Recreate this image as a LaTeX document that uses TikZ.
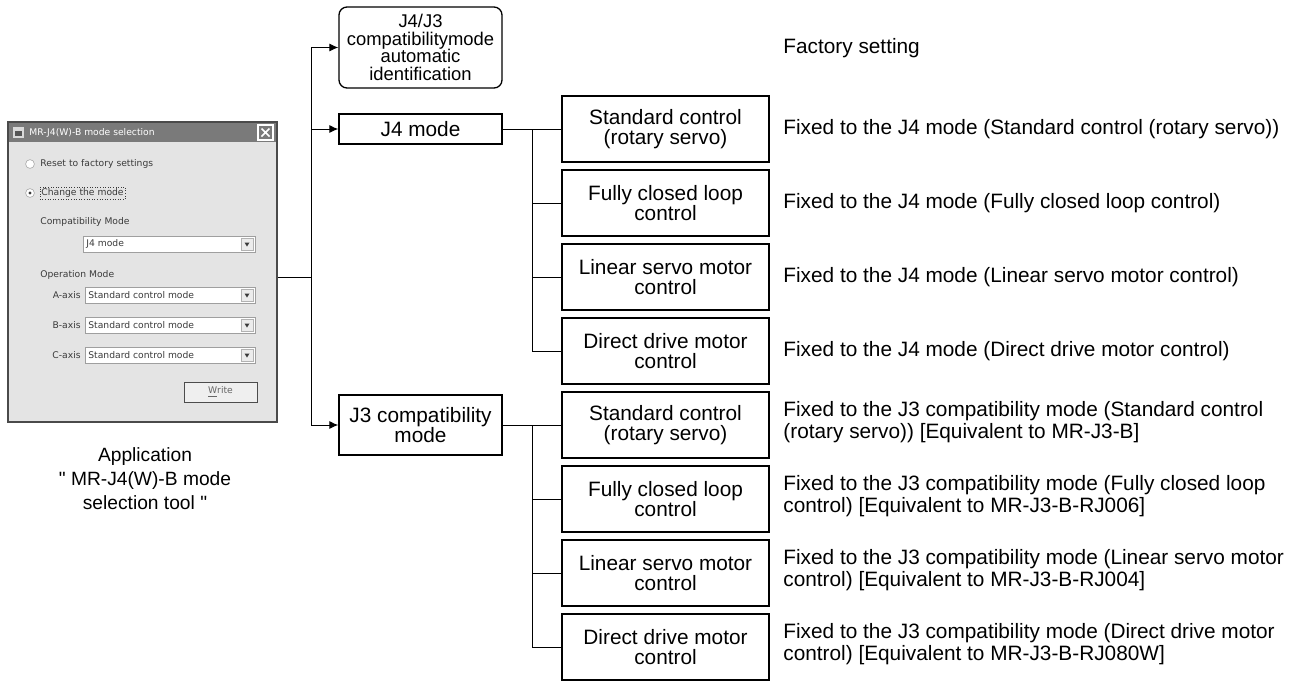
\documentclass[tikz,border=0pt]{standalone}
\usepackage{fontspec}
\setmainfont{Liberation Sans}[Ligatures=TeXOff]
\newfontfamily\dlgfamily{DejaVu Sans}
\usetikzlibrary{positioning,arrows.meta}
\definecolor{dlgbg}{HTML}{E4E4E4}
\definecolor{dlgtitle}{HTML}{7A7A7A}
\definecolor{dlgedge}{HTML}{4A4A4A}
\definecolor{dlgtext}{HTML}{3A3A3A}
\tikzset{
  modebox/.style={draw,line width=0.65pt,align=center,minimum width=81.5pt,minimum height=15pt,inner sep=1pt,font=\fontsize{10.4}{10}\selectfont},
  autobox/.style={modebox,rounded corners=4pt,minimum height=40.5pt,font=\fontsize{9.2}{8.8}\selectfont},
  ctrlbox/.style={modebox,minimum width=103.5pt,minimum height=33pt},
  note/.style={anchor=west,align=left,inner sep=0pt,font=\fontsize{10.4}{9.6}\selectfont},
  wire/.style={line width=0.5pt},
  dlgtxt/.style={anchor=west,inner sep=0pt,text=dlgtext,font=\dlgfamily\fontsize{4.6}{5}\selectfont},
  combo/.style={draw=gray!75,fill=white,line width=0.4pt},
  dropbtn/.style={draw=gray!60,fill=gray!15,line width=0.3pt},
}
\begin{document}
\begin{tikzpicture}[>={Latex[length=4.5pt,width=4pt]},x=0.5pt,y=-0.5pt]
  \useasboundingbox (0,0) rectangle (1306,682);
  % Dialog window
  \draw[line width=1pt,draw=dlgedge,fill=dlgbg] (8,122) rectangle (277,422);
  \fill[dlgtitle] (9,123) rectangle (276,142);
  \fill[white!85!black] (13,127) rectangle (24,138);
  \fill[dlgtitle!70!black] (15,131) rectangle (22,136);
  \node[dlgtxt,text=white] (ttl) at (29,132.5) {MR-J4(W)-B mode selection};
  \draw[white,line width=0.6pt] (258,125) rectangle (273,140);
  \draw[white,line width=0.8pt] (261.5,128.5) -- (269.5,136.5) (269.5,128.5) -- (261.5,136.5);
  % Radio buttons
  \draw[gray!70,fill=white,line width=0.3pt] (30,164) circle (2.2pt);
  \node[dlgtxt] (rst) at (40,164) {Reset to factory settings};
  \draw[gray!70,fill=white,line width=0.3pt] (30,193) circle (2.2pt);
  \fill[dlgtext] (30,193) circle (0.8pt);
  \node[dlgtxt,draw=dlgtext,densely dotted,line width=0.3pt,inner sep=0.8pt] (chg) at (39.5,193) {Change the mode};
  % Compatibility mode
  \node[dlgtxt] (cmp) at (40,222) {Compatibility Mode};
  \draw[combo] (83,236) rectangle (255,252);
  \draw[dropbtn] (241,238) rectangle (253,250);
  \fill[dlgtext] (244.5,242.5) -- (249.5,242.5) -- (247,246.5) -- cycle;
  \node[dlgtxt] (cmpsel) at (86,244) {J4 mode};
  % Operation mode
  \node[dlgtxt] (opm) at (40,275) {Operation Mode};
  \foreach \ax/\yy in {A/295,B/325,C/355}{
    \node[dlgtxt,anchor=east] at (81,\yy) {\ax-axis};
    \draw[combo] (85,\yy-8) rectangle (255,\yy+8);
    \draw[dropbtn] (241,\yy-6) rectangle (253,\yy+6);
    \fill[dlgtext] (244.5,\yy-1.5) -- (249.5,\yy-1.5) -- (247,\yy+2.5) -- cycle;
    \node[dlgtxt] at (88,\yy) {Standard control mode};
  }
  \draw[gray!60!black,fill=dlgbg!60!white,line width=0.5pt] (184,382) rectangle (257,402);
  \node[dlgtxt,anchor=center,text=gray!80!black] (wrt) at (220.5,392) {\underline{W}rite};
  \node[align=center,font=\fontsize{9.6}{12}\selectfont] (app) at (145,479) {Application\\" MR-J4(W)-B mode\\selection tool "};

  % Mode boxes
  \node[autobox] (auto) at (420.5,47.5) {J4/J3\\compatibilitymode\\automatic\\identification};
  \node[modebox] (j4) at (420.5,129) {J4 mode};
  \node[modebox,minimum height=30pt] (j3) at (420.5,425) {J3 compatibility\\mode};
  \foreach \nm/\yy/\txt in {s1/129/{Standard control\\(rotary servo)},s2/203/{Fully closed loop\\control},
      s3/277/{Linear servo motor\\control},s4/351/{Direct drive motor\\control},
      t1/425/{Standard control\\(rotary servo)},t2/499/{Fully closed loop\\control},
      t3/573/{Linear servo motor\\control},t4/647/{Direct drive motor\\control}}
    \node[ctrlbox] (\nm) at (665.5,\yy) {\txt};

  % Notes
  \node[note] (fac) at (783,48) {Factory setting};
  \node[note] (n1) at (783,129) {Fixed to the J4 mode (Standard control (rotary servo))};
  \node[note] (n2) at (783,203) {Fixed to the J4 mode (Fully closed loop control)};
  \node[note] (n3) at (783,277) {Fixed to the J4 mode (Linear servo motor control)};
  \node[note] (n4) at (783,351) {Fixed to the J4 mode (Direct drive motor control)};
  \node[note] (m1) at (783,422) {Fixed to the J3 compatibility mode (Standard control\\(rotary servo)) [Equivalent to MR-J3-B]};
  \node[note] (m2) at (783,496) {Fixed to the J3 compatibility mode (Fully closed loop\\control) [Equivalent to MR-J3-B-RJ006]};
  \node[note] (m3) at (783,570) {Fixed to the J3 compatibility mode (Linear servo motor\\control) [Equivalent to MR-J3-B-RJ004]};
  \node[note] (m4) at (783,644) {Fixed to the J3 compatibility mode (Direct drive motor\\control) [Equivalent to MR-J3-B-RJ080W]};

  % Connectors
  \coordinate (dlgout) at (278,277);
  \coordinate (split) at (311,277);
  \draw[wire] (dlgout) -- (split);
  \draw[wire,->] (split) |- (auto);
  \draw[wire,->] (split) |- (j4);
  \draw[wire,->] (split) |- (j3);
  \coordinate (j4bus) at (532,129);
  \coordinate (j3bus) at (532,425);
  \draw[wire] (j4) -- (s1);
  \foreach \n in {s2,s3,s4} \draw[wire] (j4bus) |- (\n);
  \draw[wire] (j3) -- (t1);
  \foreach \n in {t2,t3,t4} \draw[wire] (j3bus) |- (\n);
\end{tikzpicture}
\end{document}
